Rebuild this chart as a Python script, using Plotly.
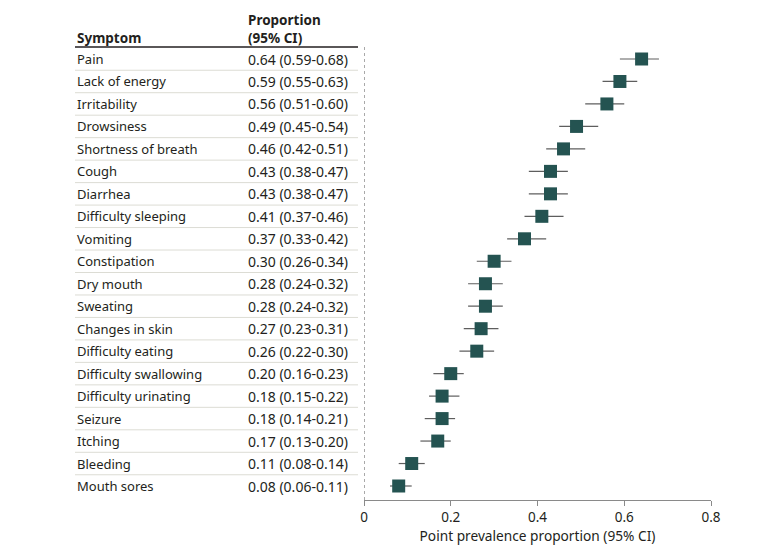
import plotly.graph_objects as go

symptoms = ["Pain", "Lack of energy", "Irritability", "Drowsiness", "Shortness of breath",
            "Cough", "Diarrhea", "Difficulty sleeping", "Vomiting", "Constipation",
            "Dry mouth", "Sweating", "Changes in skin", "Difficulty eating",
            "Difficulty swallowing", "Difficulty urinating", "Seizure", "Itching",
            "Bleeding", "Mouth sores"]
estimate = [0.64, 0.59, 0.56, 0.49, 0.46, 0.43, 0.43, 0.41, 0.37, 0.30,
            0.28, 0.28, 0.27, 0.26, 0.20, 0.18, 0.18, 0.17, 0.11, 0.08]
ci_low = [0.59, 0.55, 0.51, 0.45, 0.42, 0.38, 0.38, 0.37, 0.33, 0.26,
          0.24, 0.24, 0.23, 0.22, 0.16, 0.15, 0.14, 0.13, 0.08, 0.06]
ci_high = [0.68, 0.63, 0.60, 0.54, 0.51, 0.47, 0.47, 0.46, 0.42, 0.34,
           0.32, 0.32, 0.31, 0.30, 0.23, 0.22, 0.21, 0.20, 0.14, 0.11]
x_ticks = [0, 0.2, 0.4, 0.6, 0.8]
tick_text = ["0", "0.2", "0.4", "0.6", "0.8"]

FONT = "Noto Sans"
TXT = "#231f20"
MARK = "#245351"

rows = list(range(len(symptoms)))

fig = go.Figure()
fig.add_trace(go.Scatter(
    x=estimate, y=rows, mode="markers",
    marker=dict(symbol="square", size=13, color=MARK, line=dict(width=0)),
    error_x=dict(type="data", symmetric=False,
                 array=[h - e for h, e in zip(ci_high, estimate)],
                 arrayminus=[e - l for e, l in zip(estimate, ci_low)],
                 color="#5e5e5e", thickness=1.2, width=0),
    showlegend=False, hoverinfo="skip"))

OFF = 8  # page body margin
L, R, T, B = 364 - OFF, 780 - 711 + OFF, 47 - OFF, 553 - 500 + OFF
W, H = 780, 553
pw = W - L - R

def px2paper(px):
    return (px - OFF - L) / pw

annotations = []
shapes = []
for i, (s, e, lo, hi) in enumerate(zip(symptoms, estimate, ci_low, ci_high)):
    annotations.append(dict(x=px2paper(75), y=i, xref="paper", yref="y", text=s,
                            showarrow=False, xanchor="left", yanchor="middle",
                            font=dict(family=FONT, size=13, color=TXT)))
    annotations.append(dict(x=px2paper(246), y=i, xref="paper", yref="y",
                            text=f"{e:.2f} ({lo:.2f}-{hi:.2f})",
                            showarrow=False, xanchor="left", yanchor="middle",
                            font=dict(family=FONT, size=14, color=TXT)))
    if i < len(symptoms) - 1:
        shapes.append(dict(type="line", xref="paper", yref="y",
                           x0=px2paper(75), x1=px2paper(358), y0=i + 0.5, y1=i + 0.5,
                           line=dict(color="#dcdcd4", width=1)))

# header
annotations.append(dict(x=px2paper(75), y=1, xref="paper", yref="paper",
                        yshift=-2, text="<b>Symptom</b>", showarrow=False,
                        xanchor="left", yanchor="bottom",
                        font=dict(family=FONT, size=13.5, color=TXT)))
annotations.append(dict(x=px2paper(246), y=1, xref="paper", yref="paper",
                        yshift=-2, text="<b>Proportion<br>(95% CI)</b>", showarrow=False,
                        xanchor="left", yanchor="bottom", align="left",
                        font=dict(family=FONT, size=13.5, color=TXT)))
shapes.append(dict(type="line", xref="paper", yref="paper",
                   x0=px2paper(75), x1=px2paper(358), y0=1, y1=1,
                   line=dict(color="#231f20", width=1.5)))
# dotted reference line at 0
shapes.append(dict(type="line", xref="x", yref="paper", x0=0, x1=0, y0=0, y1=1,
                   line=dict(color="#555555", width=1, dash="dot")))

top_px = 59 - OFF
step = (486 - 59) / 19
y_top = -(top_px - T) / step
y_bot = (H - B - top_px) / step

fig.update_layout(
    width=W, height=H,
    margin=dict(l=L, r=R, t=T, b=B),
    paper_bgcolor="white", plot_bgcolor="white",
    font=dict(family=FONT, size=13, color=TXT),
    xaxis=dict(range=[0, 0.8], tickvals=x_ticks, ticktext=tick_text,
               showgrid=False, zeroline=False, showline=True,
               linecolor="#8a8a8a", linewidth=1,
               ticks="outside", ticklen=5, tickcolor="#8a8a8a",
               tickfont=dict(family=FONT, size=13.5, color=TXT),
               title=dict(text="Point prevalence proportion (95% CI)",
                          font=dict(family=FONT, size=13.7, color=TXT), standoff=6)),
    yaxis=dict(range=[y_bot, y_top], showgrid=False, zeroline=False,
               showline=False, showticklabels=False, ticks=""),
    annotations=annotations, shapes=shapes,
)

fig.write_html("out.html")
